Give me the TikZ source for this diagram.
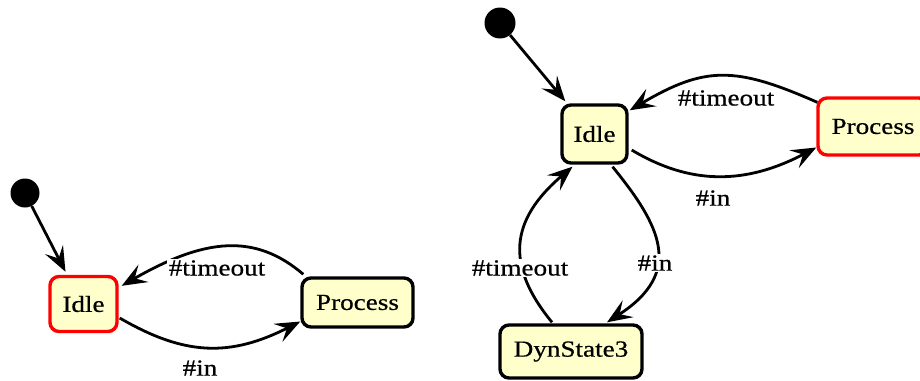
\documentclass[tikz,border=0pt]{standalone}
\usepackage{fontspec}
\setmainfont{Liberation Serif}[FakeStretch=1.18,FakeBold=0.6]
\usetikzlibrary{arrows.meta,calc}
\definecolor{statefill}{HTML}{FFFFCC}
\definecolor{activered}{HTML}{FF0000}
\tikzset{
  statebox/.style={draw=black, line width=3.4pt, rounded corners=9pt, fill=statefill,
    inner sep=0pt, font=\fontsize{23}{27}\selectfont},
  activebox/.style={statebox, draw=activered},
  initdot/.style={circle, fill=black, draw=none, minimum size=29pt, inner sep=0pt},
  edge/.style={line width=2.8pt, -{Stealth[length=25pt,width=20pt,inset=10pt]}},
  evlabel/.style={fill=white, inner sep=1.5pt, font=\fontsize{23}{27}\selectfont}
}
\begin{document}
\begin{tikzpicture}[x=1pt,y=-1pt]
\useasboundingbox (0,0) rectangle (920,380);

% ---- simple machine: Idle <-> Process ----
\node[initdot] (D1) at (25,193) {};
\node[activebox, minimum width=67pt, minimum height=55pt] (I1) at (83.5,304) {Idle};
\node[statebox, minimum width=111pt, minimum height=49pt] (P1) at (357.5,302.5) {Process};

\draw[edge] (D1) -- ($(I1.north)+(-18,-3)$);
\draw[edge] ($(P1.north west)+(3,-2)$) .. controls (255,233) and (205,238) .. ($(I1.north east)+(3,11)$);
\draw[edge] ($(I1.east)+(1,14)$) .. controls (185,356) and (230,357) .. ($(P1.west)+(0,19)$);
\node[evlabel] (L1t) at (217,268) {\#timeout};
\node[evlabel] (L1i) at (200,368) {\#in};

% ---- extended machine with DynState3 ----
\node[initdot, minimum size=31pt] (D2) at (500,23) {};
\node[statebox, minimum width=65pt, minimum height=58pt] (I2) at (594.5,134) {Idle};
\node[activebox, minimum width=110pt, minimum height=57pt] (P2) at (873,126.5) {Process};
\node[statebox, minimum width=142pt, minimum height=53pt] (S3) at (571,351.5) {DynState3};

\draw[edge] (D2) -- ($(I2.north west)+(5,-2)$);
\draw[edge] ($(P2.north west)+(1,6)$) .. controls (735,66) and (705,66) .. ($(I2.north east)+(1,7)$);
\draw[edge] ($(I2.east)+(3,16)$) .. controls (690,185) and (745,185) .. ($(P2.west)+(0,21)$);
\draw[edge] ($(S3.north)+(-19,-1)$) .. controls (505,265) and (510,220) .. ($(I2.south)+(-22,2)$);
\draw[edge] ($(I2.south)+(18,2)$) .. controls (660,225) and (685,272) .. ($(S3.north)+(36,-1)$);
\node[evlabel] (L2t) at (726,98) {\#timeout};
\node[evlabel] (L2i) at (713,198) {\#in};
\node[evlabel] (L3t) at (520,268) {\#timeout};
\node[evlabel] (L3i) at (655,263) {\#in};
\end{tikzpicture}
\end{document}
